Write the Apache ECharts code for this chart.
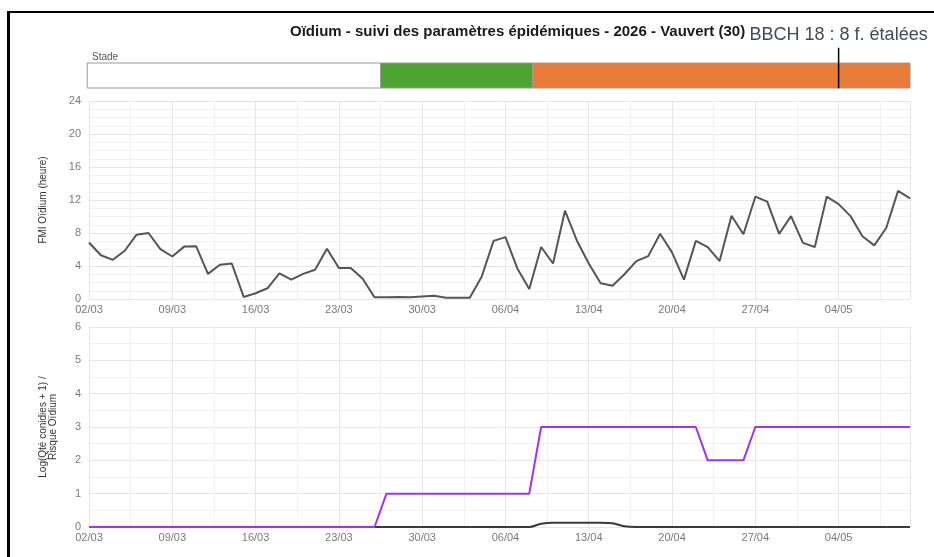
<!DOCTYPE html>
<html>
<head>
<meta charset="utf-8">
<script src="https://cdn.jsdelivr.net/npm/echarts@6.0.0/dist/echarts.min.js"></script>
<style>
html,body{margin:0;padding:0;background:#fff;}
#chart{width:934px;height:557px;position:absolute;left:0;top:0;}
#frame{position:absolute;left:7px;top:11px;width:927px;height:546px;border-top:2px solid #000;border-left:3px solid #000;box-sizing:border-box;pointer-events:none;}
</style>
</head>
<body>
<div id="chart"></div>
<div id="frame"></div>
<script>
// ---- data ----
const dates = ['02/03','03/03','04/03','05/03','06/03','07/03','08/03','09/03','10/03','11/03','12/03','13/03','14/03','15/03','16/03','17/03','18/03','19/03','20/03','21/03','22/03','23/03','24/03','25/03','26/03','27/03','28/03','29/03','30/03','31/03','01/04','02/04','03/04','04/04','05/04','06/04','07/04','08/04','09/04','10/04','11/04','12/04','13/04','14/04','15/04','16/04','17/04','18/04','19/04','20/04','21/04','22/04','23/04','24/04','25/04','26/04','27/04','28/04','29/04','30/04','01/05','02/05','03/05','04/05','05/05','06/05','07/05','08/05','09/05','10/05'];
const fmi = [6.85,5.3,4.75,5.85,7.8,8.0,6.05,5.15,6.35,6.4,3.05,4.15,4.3,0.25,0.7,1.3,3.1,2.35,3.05,3.55,6.1,3.75,3.75,2.45,0.2,0.2,0.25,0.2,0.3,0.4,0.15,0.15,0.15,2.7,7.05,7.5,3.7,1.2,6.3,4.3,10.7,7.1,4.3,1.9,1.6,3.0,4.6,5.2,7.9,5.65,2.35,7.05,6.3,4.6,10.1,7.85,12.4,11.8,7.9,10.05,6.8,6.3,12.4,11.5,10.05,7.6,6.5,8.6,13.1,12.2];
const risque = [0,0,0,0,0,0,0,0,0,0,0,0,0,0,0,0,0,0,0,0,0,0,0,0,0,1,1,1,1,1,1,1,1,1,1,1,1,1,3,3,3,3,3,3,3,3,3,3,3,3,3,3,2,2,2,2,3,3,3,3,3,3,3,3,3,3,3,3,3,3];
const conidies = [0,0,0,0,0,0,0,0,0,0,0,0,0,0,0,0,0,0,0,0,0,0,0,0,0,0,0,0,0,0,0,0,0,0,0,0,0,0,0.1,0.13,0.13,0.13,0.13,0.13,0.11,0.02,0,0,0,0,0,0,0,0,0,0,0,0,0,0,0,0,0,0,0,0,0,0,0,0];
const stageStart = [-0.15, 24.5, 37.3];
const stageEnd = [24.5, 37.3, 69];
const stageColors = ['#ffffff', '#4ba52f', '#e87c38'];
const bbchDay = 63;
const bbchText = 'BBCH 18 : 8 f. étalées';
const fmiTicks = [0, 4, 8, 12, 16, 20, 24];
const risqueTicks = [0, 1, 2, 3, 4, 5, 6];

// ---- chart ----
const chart = echarts.init(document.getElementById('chart'), null, {renderer: 'canvas'});
const FONT = 'Liberation Sans, Arial, sans-serif';
const lastIdx = dates.length - 1;

function xAxisCfg(gridIndex, showLabels) {
  return {
    type: 'value', gridIndex: gridIndex, min: 0, max: lastIdx, interval: 7,
    axisLine: {show: false}, axisTick: {show: false},
    axisLabel: {show: showLabels, showMaxLabel: false, color: '#7a7a7a', fontSize: 11, fontFamily: FONT, margin: 5,
      formatter: v => dates[v] || ''},
    splitLine: {show: showLabels, lineStyle: {color: '#e6e6e6', width: 1}},
    minorTick: {show: false, splitNumber: 2},
    minorSplitLine: {show: showLabels, lineStyle: {color: '#f1f1f1', width: 1}}
  };
}

const option = {
  backgroundColor: '#fff',
  animation: false,
  title: [
    {text: 'Oïdium - suivi des paramètres épidémiques - 2026 - Vauvert (30)', left: 285, top: 19,
      textStyle: {fontFamily: FONT, fontSize: 15, fontWeight: 'bold', color: '#1a1a1a'}},
    {text: 'Stade', left: 87, top: 47, textStyle: {fontFamily: FONT, fontSize: 10, fontWeight: 'normal', color: '#555'}}
  ],
  grid: [
    {left: 89, right: 24, top: 48, height: 40},
    {left: 89, right: 24, top: 101, height: 198},
    {left: 89, right: 24, top: 327, height: 200}
  ],
  xAxis: [xAxisCfg(0, false), xAxisCfg(1, true), xAxisCfg(2, true)],
  yAxis: [
    {type: 'value', gridIndex: 0, min: 0, max: 1.6, show: false},
    {type: 'value', gridIndex: 1, min: fmiTicks[0], max: fmiTicks[fmiTicks.length - 1], interval: 4,
      name: 'FMI Oïdium (heure)', nameLocation: 'middle', nameGap: 41,
      nameTextStyle: {fontFamily: FONT, fontSize: 10, color: '#333'},
      axisLine: {show: false}, axisTick: {show: false},
      axisLabel: {color: '#7a7a7a', fontSize: 11, fontFamily: FONT, margin: 8},
      splitLine: {lineStyle: {color: '#e6e6e6'}},
      minorTick: {show: false, splitNumber: 4},
      minorSplitLine: {show: true, lineStyle: {color: '#f1f1f1'}}},
    {type: 'value', gridIndex: 2, min: risqueTicks[0], max: risqueTicks[risqueTicks.length - 1], interval: 1,
      name: 'Log(Qté conidies + 1) /\nRisque Oïdium', nameLocation: 'middle', nameGap: 31,
      nameTextStyle: {fontFamily: FONT, fontSize: 10, color: '#333', lineHeight: 10},
      axisLine: {show: false}, axisTick: {show: false},
      axisLabel: {color: '#7a7a7a', fontSize: 11, fontFamily: FONT, margin: 8},
      splitLine: {lineStyle: {color: '#e6e6e6'}},
      minorTick: {show: false, splitNumber: 2},
      minorSplitLine: {show: true, lineStyle: {color: '#f1f1f1'}}}
  ],
  series: [
    {
      type: 'custom', xAxisIndex: 0, yAxisIndex: 0, clip: false,
      data: stageStart.map((s, i) => [s, stageEnd[i], i]),
      renderItem: function (params, api) {
        const p0 = api.coord([api.value(0), 1]);
        const p1 = api.coord([api.value(1), 0]);
        return {
          type: 'rect',
          shape: {x: p0[0], y: p0[1], width: p1[0] - p0[0], height: p1[1] - p0[1]},
          style: {fill: stageColors[api.value(2)], stroke: '#9a9a9a', lineWidth: 1}
        };
      }
    },
    {
      type: 'line', xAxisIndex: 0, yAxisIndex: 0, clip: false,
      symbol: 'circle', symbolSize: 1, showSymbol: true,
      itemStyle: {color: '#000'},
      lineStyle: {color: '#000', width: 1.5},
      data: [
        {value: [bbchDay, 0]},
        {value: [bbchDay, 1.6], label: {show: true, position: 'top', distance: 3, formatter: bbchText,
          fontFamily: FONT, fontSize: 18, color: '#424a5a'}}
      ],
      z: 5
    },
    {
      type: 'line', xAxisIndex: 1, yAxisIndex: 1, symbol: 'none',
      lineStyle: {color: '#555', width: 2},
      data: fmi.map((v, i) => [i, v])
    },
    {
      type: 'line', xAxisIndex: 2, yAxisIndex: 2, symbol: 'none', smooth: 0.3,
      lineStyle: {color: '#3a3a3a', width: 2},
      data: conidies.map((v, i) => [i, v]), z: 2
    },
    {
      type: 'line', xAxisIndex: 2, yAxisIndex: 2, symbol: 'none',
      lineStyle: {color: '#a033f0', width: 2},
      data: risque.map((v, i) => [i, v]), z: 3
    }
  ]
};
chart.setOption(option);
</script>
</body>
</html>
